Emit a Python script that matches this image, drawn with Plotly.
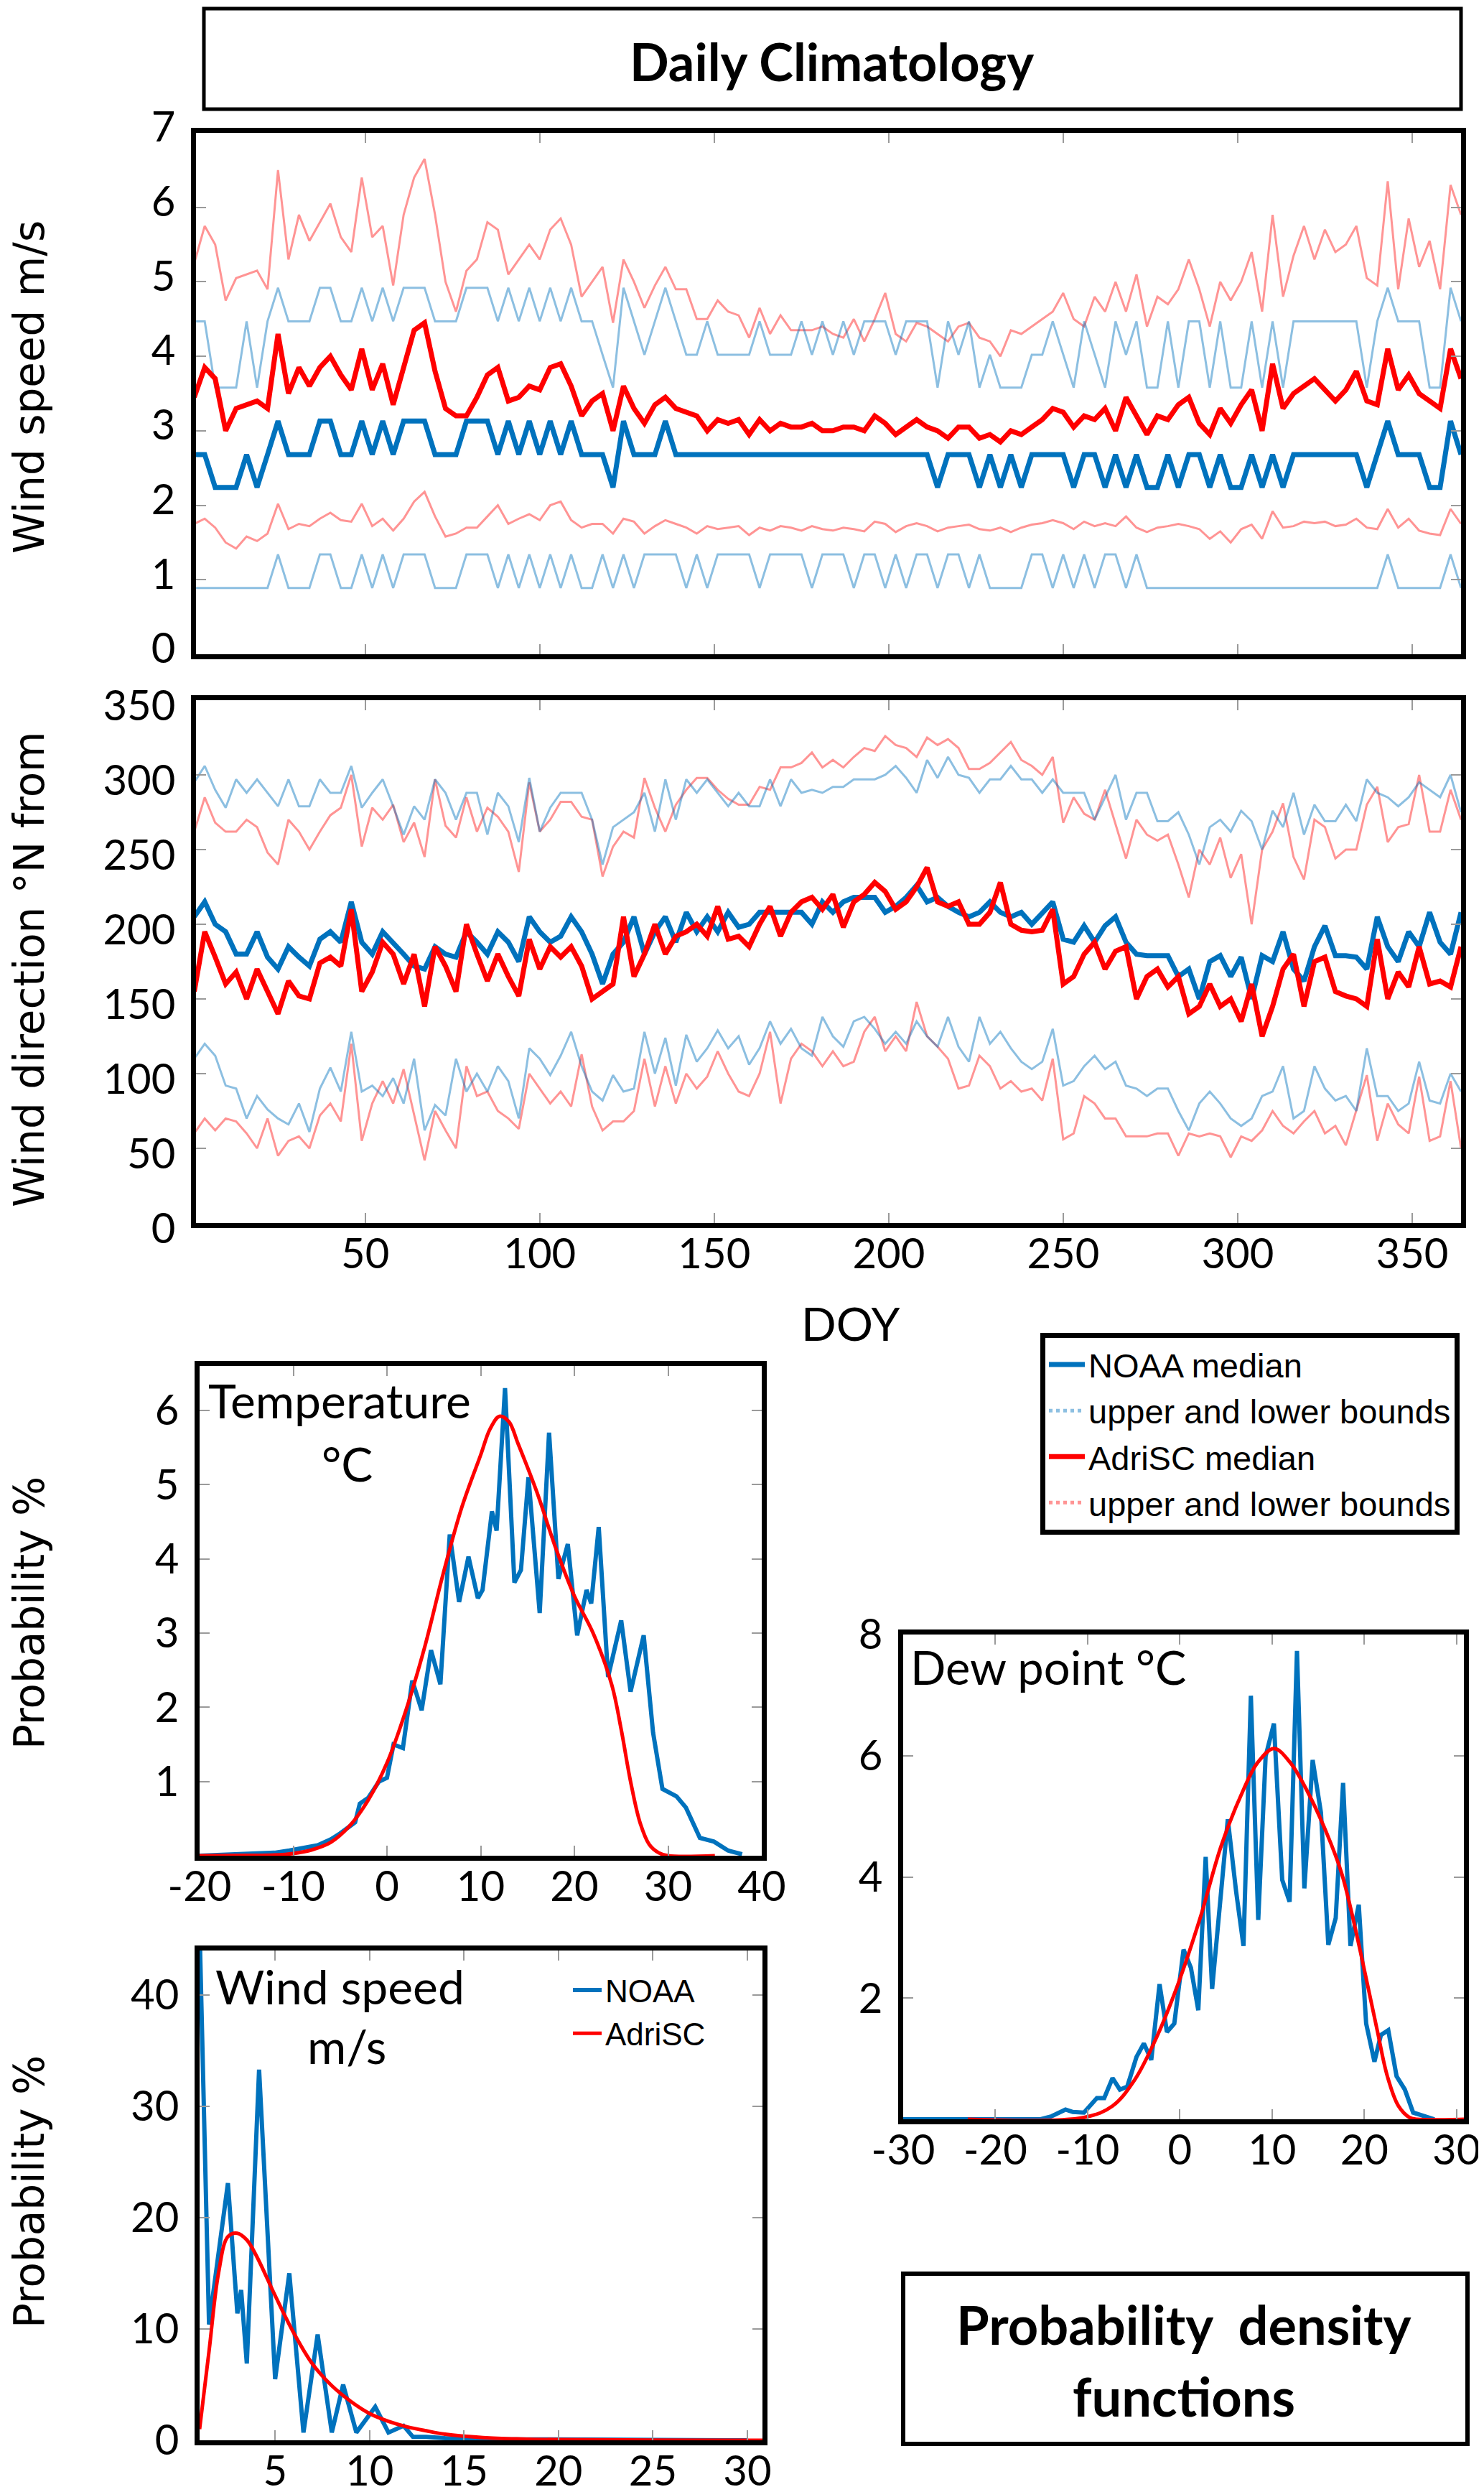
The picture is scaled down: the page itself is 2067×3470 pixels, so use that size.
import plotly.graph_objects as go

W, H = 2067, 3470

# day of year, sampled every third day
doy = list(range(1, 365, 3))

# ---- wind speed daily climatology (m/s) ----
noaa_ws_med = [
    2.68, 2.68, 2.24, 2.24, 2.24, 2.68, 2.24, 2.68, 3.13, 2.68,
    2.68, 2.68, 3.13, 3.13, 2.68, 2.68, 3.13, 2.68, 3.13, 2.68,
    3.13, 3.13, 3.13, 2.68, 2.68, 2.68, 3.13, 3.13, 3.13, 2.68,
    3.13, 2.68, 3.13, 2.68, 3.13, 2.68, 3.13, 2.68, 2.68, 2.68,
    2.24, 3.13, 2.68, 2.68, 2.68, 3.13, 2.68, 2.68, 2.68, 2.68,
    2.68, 2.68, 2.68, 2.68, 2.68, 2.68, 2.68, 2.68, 2.68, 2.68,
    2.68, 2.68, 2.68, 2.68, 2.68, 2.68, 2.68, 2.68, 2.68, 2.68,
    2.68, 2.24, 2.68, 2.68, 2.68, 2.24, 2.68, 2.24, 2.68, 2.24,
    2.68, 2.68, 2.68, 2.68, 2.24, 2.68, 2.68, 2.24, 2.68, 2.24,
    2.68, 2.24, 2.24, 2.68, 2.24, 2.68, 2.68, 2.24, 2.68, 2.24,
    2.24, 2.68, 2.24, 2.68, 2.24, 2.68, 2.68, 2.68, 2.68, 2.68,
    2.68, 2.68, 2.24, 2.68, 3.13, 2.68, 2.68, 2.68, 2.24, 2.24,
    3.13, 2.68]
noaa_ws_up = [
    4.47, 4.47, 3.58, 3.58, 3.58, 4.47, 3.58, 4.47, 4.92, 4.47,
    4.47, 4.47, 4.92, 4.92, 4.47, 4.47, 4.92, 4.47, 4.92, 4.47,
    4.92, 4.92, 4.92, 4.47, 4.47, 4.47, 4.92, 4.92, 4.92, 4.47,
    4.92, 4.47, 4.92, 4.47, 4.92, 4.47, 4.92, 4.47, 4.47, 4.02,
    3.58, 4.92, 4.47, 4.02, 4.47, 4.92, 4.47, 4.02, 4.02, 4.47,
    4.02, 4.02, 4.02, 4.02, 4.47, 4.02, 4.02, 4.02, 4.47, 4.02,
    4.47, 4.02, 4.47, 4.02, 4.47, 4.47, 4.47, 4.02, 4.47, 4.47,
    4.47, 3.58, 4.47, 4.02, 4.47, 3.58, 4.02, 3.58, 3.58, 3.58,
    4.02, 4.02, 4.47, 4.02, 3.58, 4.47, 4.02, 3.58, 4.47, 4.02,
    4.47, 3.58, 3.58, 4.47, 3.58, 4.47, 4.47, 3.58, 4.47, 3.58,
    3.58, 4.47, 3.58, 4.47, 3.58, 4.47, 4.47, 4.47, 4.47, 4.47,
    4.47, 4.47, 3.58, 4.47, 4.92, 4.47, 4.47, 4.47, 3.58, 3.58,
    4.92, 4.47]
noaa_ws_lo = [
    0.89, 0.89, 0.89, 0.89, 0.89, 0.89, 0.89, 0.89, 1.34, 0.89,
    0.89, 0.89, 1.34, 1.34, 0.89, 0.89, 1.34, 0.89, 1.34, 0.89,
    1.34, 1.34, 1.34, 0.89, 0.89, 0.89, 1.34, 1.34, 1.34, 0.89,
    1.34, 0.89, 1.34, 0.89, 1.34, 0.89, 1.34, 0.89, 0.89, 1.34,
    0.89, 1.34, 0.89, 1.34, 1.34, 1.34, 1.34, 0.89, 1.34, 0.89,
    1.34, 1.34, 1.34, 1.34, 0.89, 1.34, 1.34, 1.34, 1.34, 0.89,
    1.34, 1.34, 1.34, 0.89, 1.34, 1.34, 0.89, 1.34, 0.89, 1.34,
    1.34, 0.89, 1.34, 1.34, 0.89, 1.34, 0.89, 0.89, 0.89, 0.89,
    1.34, 1.34, 0.89, 1.34, 0.89, 1.34, 0.89, 1.34, 1.34, 0.89,
    1.34, 0.89, 0.89, 0.89, 0.89, 0.89, 0.89, 0.89, 0.89, 0.89,
    0.89, 0.89, 0.89, 0.89, 0.89, 0.89, 0.89, 0.89, 0.89, 0.89,
    0.89, 0.89, 0.89, 0.89, 1.34, 0.89, 0.89, 0.89, 0.89, 0.89,
    1.34, 0.89]
adri_ws_med = [
    3.45, 3.85, 3.7, 3.0, 3.3, 3.35, 3.4, 3.3, 4.3, 3.5,
    3.85, 3.6, 3.85, 4.0, 3.75, 3.55, 4.1, 3.55, 3.9, 3.35,
    3.85, 4.35, 4.45, 3.8, 3.3, 3.2, 3.2, 3.45, 3.75, 3.85,
    3.4, 3.45, 3.6, 3.55, 3.85, 3.9, 3.6, 3.2, 3.4, 3.5,
    3.0, 3.6, 3.3, 3.1, 3.35, 3.45, 3.3, 3.25, 3.2, 3.0,
    3.15, 3.1, 3.15, 2.95, 3.15, 3.0, 3.1, 3.05, 3.05, 3.1,
    3.0, 3.0, 3.05, 3.05, 3.0, 3.2, 3.1, 2.95, 3.05, 3.15,
    3.05, 3.0, 2.9, 3.05, 3.05, 2.9, 2.95, 2.85, 3.0, 2.95,
    3.05, 3.15, 3.3, 3.25, 3.05, 3.2, 3.15, 3.3, 3.0, 3.45,
    3.2, 2.95, 3.2, 3.15, 3.35, 3.45, 3.1, 2.95, 3.3, 3.1,
    3.35, 3.55, 3.0, 3.9, 3.3, 3.5, 3.6, 3.7, 3.55, 3.4,
    3.55, 3.8, 3.4, 3.35, 4.1, 3.55, 3.75, 3.5, 3.4, 3.3,
    4.1, 3.7]
adri_ws_up = [
    5.25, 5.75, 5.5, 4.75, 5.05, 5.1, 5.15, 4.9, 6.5, 5.3,
    5.9, 5.55, 5.8, 6.05, 5.6, 5.4, 6.4, 5.6, 5.75, 4.95,
    5.9, 6.4, 6.65, 5.9, 5.0, 4.6, 5.15, 5.3, 5.8, 5.7,
    5.1, 5.3, 5.5, 5.3, 5.7, 5.85, 5.5, 4.8, 5.0, 5.2,
    4.45, 5.3, 5.0, 4.65, 4.95, 5.2, 4.9, 4.9, 4.5, 4.5,
    4.75, 4.6, 4.55, 4.25, 4.65, 4.3, 4.55, 4.35, 4.35, 4.35,
    4.4, 4.3, 4.25, 4.5, 4.2, 4.5, 4.85, 4.3, 4.2, 4.45,
    4.4, 4.3, 4.2, 4.4, 4.45, 4.25, 4.2, 4.0, 4.35, 4.3,
    4.4, 4.5, 4.6, 4.85, 4.5, 4.4, 4.8, 4.6, 5.0, 4.6,
    5.1, 4.4, 4.8, 4.7, 4.9, 5.3, 4.9, 4.4, 5.0, 4.75,
    5.0, 5.4, 4.6, 5.9, 4.8, 5.35, 5.75, 5.3, 5.7, 5.4,
    5.5, 5.75, 5.05, 4.95, 6.35, 4.9, 5.85, 5.2, 5.55, 4.9,
    6.3, 5.9]
adri_ws_lo = [
    1.75, 1.82, 1.7, 1.5, 1.42, 1.58, 1.52, 1.62, 2.02, 1.68,
    1.75, 1.72, 1.82, 1.9, 1.8, 1.78, 2.02, 1.72, 1.82, 1.66,
    1.82, 2.05, 2.18, 1.85, 1.58, 1.62, 1.7, 1.7, 1.85, 2.0,
    1.75, 1.82, 1.88, 1.8, 2.0, 2.05, 1.8, 1.7, 1.75, 1.75,
    1.62, 1.82, 1.78, 1.62, 1.72, 1.8, 1.75, 1.7, 1.62, 1.72,
    1.68, 1.7, 1.72, 1.6, 1.7, 1.66, 1.72, 1.7, 1.66, 1.72,
    1.68, 1.66, 1.7, 1.68, 1.65, 1.78, 1.75, 1.64, 1.72, 1.76,
    1.72, 1.65, 1.7, 1.72, 1.74, 1.68, 1.66, 1.7, 1.64, 1.7,
    1.74, 1.76, 1.8, 1.76, 1.68, 1.78, 1.72, 1.76, 1.72, 1.85,
    1.7, 1.64, 1.7, 1.72, 1.75, 1.72, 1.68, 1.55, 1.65, 1.5,
    1.68, 1.74, 1.55, 1.92, 1.7, 1.72, 1.78, 1.76, 1.78, 1.72,
    1.74, 1.82, 1.7, 1.68, 1.95, 1.7, 1.82, 1.66, 1.62, 1.6,
    1.95, 1.75]

# ---- wind direction daily climatology (deg N from) ----
noaa_wd_med = [
    205, 215, 200, 195, 180, 180, 195, 178, 170, 185,
    178, 172, 190, 195, 188, 215, 188, 180, 195, 188,
    180, 172, 170, 185, 180, 178, 195, 188, 180, 195,
    188, 175, 205, 195, 188, 192, 205, 195, 180, 160,
    180, 188, 205, 180, 195, 205, 188, 208, 195, 205,
    195, 208, 198, 200, 208, 208, 208, 208, 208, 200,
    215, 208, 215, 218, 218, 218, 208, 212, 218, 226,
    215, 218, 212, 208, 205, 208, 215, 208, 205, 208,
    200, 208, 215, 190, 188, 199, 188, 199, 205, 188,
    180, 179, 179, 179, 165, 170, 150, 175, 179, 165,
    178, 150, 179, 175, 195, 170, 162, 185, 199, 179,
    179, 178, 170, 205, 185, 175, 195, 185, 208, 188,
    180, 208]
noaa_wd_up = [
    295, 306, 290, 278, 297, 288, 297, 288, 279, 297,
    279, 279, 297, 288, 288, 306, 278, 288, 297, 279,
    260, 279, 270, 297, 288, 270, 288, 288, 260, 288,
    279, 255, 298, 262, 278, 288, 288, 288, 270, 240,
    265, 270, 275, 288, 262, 297, 270, 297, 288, 297,
    288, 279, 288, 279, 279, 297, 279, 297, 288, 290,
    288, 292, 292, 297, 297, 297, 300, 306, 298, 288,
    310, 298, 312, 300, 298, 288, 297, 297, 306, 297,
    297, 288, 297, 288, 288, 288, 270, 285, 300, 270,
    288, 288, 269, 269, 275, 260, 240, 265, 270, 262,
    276, 269, 250, 276, 265, 288, 260, 280, 269, 269,
    280, 269, 297, 288, 285, 279, 285, 295, 290, 285,
    300, 275]
noaa_wd_lo = [
    110, 120, 112, 92, 90, 70, 85, 76, 70, 66,
    80, 61, 90, 104, 88, 128, 88, 92, 85, 97,
    80, 110, 62, 79, 72, 110, 88, 100, 88, 105,
    95, 70, 117, 110, 99, 112, 128, 105, 88, 82,
    99, 88, 90, 128, 100, 124, 92, 126, 108, 117,
    129, 117, 125, 106, 117, 135, 120, 130, 117, 112,
    138, 125, 118, 135, 138, 130, 120, 128, 120, 135,
    125, 118, 138, 118, 108, 138, 120, 128, 117, 108,
    103, 108, 130, 92, 95, 105, 112, 103, 108, 92,
    90, 85, 90, 90, 75, 62, 80, 88, 80, 70,
    65, 70, 85, 88, 105, 70, 75, 105, 90, 82,
    85, 75, 117, 85, 85, 75, 80, 108, 82, 80,
    100, 88]
adri_wd_med = [
    155, 195, 178, 160, 168, 150, 170, 155, 140, 162,
    152, 150, 174, 178, 172, 210, 155, 168, 188, 180,
    160, 180, 145, 185, 172, 155, 200, 180, 162, 180,
    165, 152, 190, 170, 185, 178, 185, 172, 150, 155,
    160, 205, 165, 180, 200, 180, 192, 195, 200, 192,
    212, 190, 192, 185, 200, 212, 192, 208, 215, 218,
    210, 220, 198, 215, 220, 228, 222, 210, 215, 225,
    238, 215, 212, 215, 200, 200, 208, 228, 200, 196,
    195, 196, 210, 160, 165, 180, 188, 170, 182, 185,
    150, 165, 170, 158, 165, 140, 145, 160, 145, 150,
    135, 160, 125, 145, 170, 180, 145, 175, 178, 155,
    152, 150, 145, 190, 150, 168, 158, 185, 160, 162,
    158, 185]
adri_wd_up = [
    262, 285, 268, 262, 262, 270, 265, 248, 240, 270,
    262, 250, 262, 273, 278, 300, 252, 278, 270, 280,
    255, 268, 245, 297, 266, 258, 285, 262, 278, 272,
    262, 235, 295, 262, 270, 282, 282, 272, 270, 232,
    252, 262, 258, 298, 278, 262, 280, 290, 298, 298,
    290, 284, 280, 280, 292, 290, 305, 305, 308, 315,
    305, 310, 305, 312, 318, 316, 326, 320, 318, 312,
    325, 320, 324, 318, 304, 304, 308, 315, 322, 310,
    306, 300, 312, 268, 285, 274, 270, 290, 267, 244,
    270, 260, 256, 260, 240, 218, 250, 240, 258, 231,
    247, 200, 250, 262, 281, 245, 230, 270, 265, 244,
    250, 250, 280, 292, 255, 265, 267, 300, 262, 262,
    290, 270]
adri_wd_lo = [
    60, 70, 62, 70, 68, 60, 50, 70, 45, 55,
    58, 50, 72, 80, 68, 120, 55, 80, 95, 80,
    103, 72, 42, 75, 62, 50, 105, 85, 88, 75,
    70, 63, 100, 90, 80, 88, 78, 113, 78, 62,
    68, 68, 75, 110, 78, 105, 80, 100, 90, 98,
    115, 100, 88, 85, 100, 128, 80, 110, 120, 115,
    105, 115, 105, 108, 128, 138, 115, 125, 115, 148,
    125, 118, 110, 90, 92, 112, 105, 90, 95, 88,
    90, 82, 110, 56, 60, 85, 80, 70, 70, 58,
    58, 58, 60, 60, 45, 60, 58, 60, 58, 44,
    58, 55, 62, 75, 65, 60, 68, 75, 60, 65,
    52, 75, 99, 55, 80, 66, 60, 98, 55, 58,
    95, 50]

# ---- probability density functions (%) ----
temp_noaa_x = [-20, -15, -12, -10.4, -7.4, -6, -5, -3.4, -2.9, -2,
               -0.85, 0, 0.7, 1.7, 2.7, 3.7, 4.7, 5.7, 6.7, 7.7,
               8.7, 9.7, 10.2, 11.2, 11.7, 12.6, 13.6, 14.3, 15.1, 16.3,
               17.3, 18.3, 19.3, 20.3, 21.3, 21.8, 22.6, 23.6, 25.0, 26.0,
               27.4, 28.4, 29.4, 30.9, 31.9, 33.4, 34.9, 36.4, 37.9]
temp_noaa = [0.0, 0.02, 0.04, 0.07, 0.14, 0.22, 0.3, 0.45, 0.7, 0.78,
             1.0, 1.05, 1.5, 1.45, 2.36, 1.96, 2.77, 2.31, 4.33, 3.42,
             4.03, 3.47, 3.58, 4.64, 4.38, 6.3, 3.68, 3.85, 5.1, 3.27,
             5.7, 3.73, 4.2, 2.97, 3.58, 3.4, 4.43, 2.41, 3.17, 2.21,
             2.97, 1.66, 0.9, 0.8, 0.65, 0.24, 0.19, 0.07, 0.02]
temp_adri_x = [-20, -15, -12, -10, -8, -6, -4, -2, 0, 2, 4, 6, 8, 10, 11,
               12, 13, 14, 16, 18, 20, 22, 24, 25, 26, 27, 28, 29, 30, 35]
temp_adri = [0.0, 0.005, 0.01, 0.03, 0.08, 0.18, 0.4, 0.75, 1.25, 1.95,
             2.8, 3.8, 4.7, 5.4, 5.75, 5.92, 5.85, 5.55, 4.9, 4.15,
             3.5, 3.0, 2.3, 1.7, 1.0, 0.45, 0.15, 0.04, 0.0, 0.0]

dew_noaa_x = [-30, -15.1, -13.9, -12.4, -11.6, -10.4, -9.0, -8.2, -7.3, -6.5,
              -5.7, -4.7, -3.9, -3.1, -2.2, -1.4, -0.6, 0.4, 1.2, 2.0,
              2.8, 3.5, 5.2, 6.1, 6.9, 7.7, 8.5, 9.3, 10.2, 11.1,
              11.9, 12.7, 13.5, 14.4, 15.3, 16.1, 16.9, 17.7, 18.5, 19.4,
              20.2, 21.1, 21.8, 22.6, 23.5, 24.4, 25.3, 26.7, 27.6]
dew_noaa = [0.0, 0.0, 0.05, 0.16, 0.12, 0.11, 0.35, 0.35, 0.68, 0.49,
            0.54, 1.03, 1.25, 0.98, 2.23, 1.44, 1.58, 2.8, 2.5, 1.8,
            4.33, 2.15, 4.95, 3.76, 2.86, 6.99, 3.29, 5.99, 6.53, 3.95,
            3.59, 7.73, 3.81, 5.93, 5.06, 2.88, 3.32, 5.55, 2.86, 3.54,
            1.58, 0.95, 1.39, 1.47, 0.71, 0.49, 0.11, 0.05, 0.0]
dew_adri_x = [-23, -10.4, -7.3, -4.9, -2.5, -0.2, 2.2, 4.5, 6.9, 8.4, 10.2, 12.0,
              13.9, 15.9, 17.5, 18.6, 19.8, 21.4, 22.5, 23.7, 24.9, 25.7, 30.8]
dew_adri = [0.0, 0.03, 0.22, 0.65, 1.36, 2.23, 3.32, 4.52, 5.44, 5.88, 6.12, 5.88,
            5.39, 4.73, 4.08, 3.43, 2.61, 1.47, 0.71, 0.22, 0.03, 0.0, 0.0]

ws_noaa_x = [1.0, 1.5, 2.5, 3.0, 3.2, 3.5, 4.15, 5.0, 5.75, 6.5, 7.25, 8.0,
             8.6, 9.3, 10.3, 11.0, 11.8, 12.3, 13.0, 14.0, 16.0, 20.0, 25.0, 30.0]
ws_noaa = [46.0, 10.4, 23.1, 11.4, 13.5, 6.9, 33.3, 5.5, 15.0, 0.7, 9.5, 0.7,
           5.0, 0.7, 3.0, 0.7, 1.3, 0.3, 0.3, 0.2, 0.1, 0.05, 0.02, 0.0]
ws_adri_x = [1.0, 1.5, 2.0, 2.5, 3.0, 3.5, 4.0, 5.0, 6.0, 7.0, 8.0, 9.0, 10.0,
             11.0, 12.0, 13.0, 14.0, 16.0, 18.0, 20.0, 25.0, 30.8]
ws_adri = [1.0, 8.0, 15.0, 18.3, 18.6, 18.0, 16.6, 13.0, 9.6, 6.8, 4.9, 3.5, 2.4,
           1.7, 1.2, 0.85, 0.55, 0.25, 0.12, 0.06, 0.02, 0.0]

# tick labels
doy_ticks = [50, 100, 150, 200, 250, 300, 350]
ws_ticks = [0, 1, 2, 3, 4, 5, 6, 7]
wd_ticks = [0, 50, 100, 150, 200, 250, 300, 350]
temp_xticks = [-20, -10, 0, 10, 20, 30, 40]
temp_yticks = [1, 2, 3, 4, 5, 6]
dew_xticks = [-30, -20, -10, 0, 10, 20, 30]
dew_yticks = [2, 4, 6, 8]
wsp_xticks = [5, 10, 15, 20, 25, 30]
wsp_yticks = [0, 10, 20, 30, 40]

BLUE = "#0072BD"
RED = "#FF0000"
LBLUE = "rgba(0,114,189,0.45)"
LRED = "rgba(255,0,0,0.42)"
TICKFONT = "Lato"


def xdom(a, b):
    return [a / W, b / W]


def ydom(top, bottom):
    return [1 - bottom / H, 1 - top / H]


fig = go.Figure()


def add_line(x, y, color, width, ax, name=None, legend=None, rank=None, shape="linear"):
    fig.add_trace(go.Scatter(
        x=x, y=y, mode="lines", name=name,
        line=dict(color=color, width=width, shape=shape),
        xaxis="x" + ax, yaxis="y" + ax,
        showlegend=legend is not None,
        legend=legend or "legend",
        legendrank=rank or 1000,
        hoverinfo="skip"))


# daily climatology panels
for ax, up_a, lo_a, up_n, lo_n, med_n, med_a in [
        ("", adri_ws_up, adri_ws_lo, noaa_ws_up, noaa_ws_lo, noaa_ws_med, adri_ws_med),
        ("2", adri_wd_up, adri_wd_lo, noaa_wd_up, noaa_wd_lo, noaa_wd_med, adri_wd_med)]:
    add_line(doy, up_a, LRED, 3, ax)
    add_line(doy, lo_a, LRED, 3, ax)
    add_line(doy, up_n, LBLUE, 3, ax)
    add_line(doy, lo_n, LBLUE, 3, ax)
    first = ax == ""
    add_line(doy, med_n, BLUE, 7, ax, "NOAA median", "legend" if first else None, 1)
    add_line(doy, med_a, RED, 7, ax, "AdriSC median", "legend" if first else None, 3)

# legend-only entries for the bounds (dotted, as in the original key)
for nm, col, rk in [("upper and lower bounds", LBLUE, 2), ("upper and lower bounds", LRED, 4)]:
    fig.add_trace(go.Scatter(x=[None], y=[None], mode="lines", name=nm,
                             line=dict(color=col, width=5, dash="dot"),
                             legendrank=rk, showlegend=True))

# pdf panels
add_line(temp_noaa_x, temp_noaa, BLUE, 6, "3")
add_line(temp_adri_x, temp_adri, RED, 5, "3", shape="spline")
add_line(dew_noaa_x, dew_noaa, BLUE, 6, "4")
add_line(dew_adri_x, dew_adri, RED, 5, "4", shape="spline")
add_line(ws_noaa_x, ws_noaa, BLUE, 6, "5", "NOAA", "legend2", 1)
add_line(ws_adri_x, ws_adri, RED, 5, "5", "AdriSC", "legend2", 2, shape="spline")

axis = dict(showline=True, linewidth=7, linecolor="black", mirror="ticks",
            ticks="inside", ticklen=14, tickwidth=2, tickcolor="#9a9a9a",
            showgrid=False, zeroline=False, automargin=False,
            tickfont=dict(family=TICKFONT, size=58, color="black"))
xaxis_style = dict(axis, ticklabelstandoff=-14)
yaxis_style = dict(axis, ticklabelstandoff=10)


def labels(v):
    return [str(t) for t in v]


fig.update_layout(
    width=W, height=H, autosize=False,
    margin=dict(l=0, r=0, t=0, b=0, pad=0, autoexpand=False),
    paper_bgcolor="white", plot_bgcolor="white",
    xaxis=dict(xaxis_style, domain=xdom(265, 2027), range=[1.5, 364], tickvals=doy_ticks,
               showticklabels=False, anchor="y"),
    yaxis=dict(yaxis_style, domain=ydom(177, 903), range=[0, 7], tickvals=ws_ticks,
               ticktext=labels(ws_ticks), ticklabelshift=-8, anchor="x"),
    xaxis2=dict(xaxis_style, domain=xdom(265, 2027), range=[1.5, 364], tickvals=doy_ticks,
                ticktext=labels(doy_ticks), anchor="y2"),
    yaxis2=dict(yaxis_style, domain=ydom(967, 1695), range=[0, 350], tickvals=wd_ticks,
                ticktext=labels(wd_ticks), ticklabelshift=8, anchor="x2"),
    xaxis3=dict(xaxis_style, domain=xdom(270, 1053), range=[-20, 40], tickvals=temp_xticks,
                ticktext=labels(temp_xticks), anchor="y3"),
    yaxis3=dict(yaxis_style, domain=ydom(1894, 2576), range=[0, 6.6], tickvals=temp_yticks,
                ticktext=labels(temp_yticks), anchor="x3"),
    xaxis4=dict(xaxis_style, domain=xdom(1250, 2031), range=[-30, 30.8], tickvals=dew_xticks,
                ticktext=labels(dew_xticks), anchor="y4"),
    yaxis4=dict(yaxis_style, domain=ydom(2268, 2943), range=[0, 8], tickvals=dew_yticks,
                ticktext=labels(dew_yticks), anchor="x4"),
    xaxis5=dict(xaxis_style, domain=xdom(270, 1054), range=[1, 30.8], tickvals=wsp_xticks,
                ticktext=labels(wsp_xticks), anchor="y5"),
    yaxis5=dict(yaxis_style, domain=ydom(2708, 3390), range=[0, 44], tickvals=wsp_yticks,
                ticktext=labels(wsp_yticks), anchor="x5"),
    legend=dict(x=1441 / W, y=1 - 1848 / H, xanchor="left", yanchor="top",
                bgcolor="white", bordercolor="black", borderwidth=7,
                font=dict(family="Liberation Sans", size=47, color="black"),
                itemwidth=50, traceorder="normal"),
    legend2=dict(x=785 / W, y=1 - 2728 / H, xanchor="left", yanchor="top",
                 bgcolor="rgba(0,0,0,0)", borderwidth=0,
                 font=dict(family="Liberation Sans", size=44, color="black"),
                 itemwidth=40, traceorder="normal"),
)

# title boxes
fig.add_shape(type="rect", xref="paper", yref="paper",
              x0=276 / W, x1=2027 / W, y0=1 - 144 / H, y1=1 - 4 / H,
              line=dict(color="black", width=5))
fig.add_shape(type="rect", xref="paper", yref="paper",
              x0=1250 / W, x1=2036 / W, y0=1 - 3395 / H, y1=1 - 3158 / H,
              line=dict(color="black", width=6))


def note(text, x, y, size, family=TICKFONT, xanchor="center", angle=0):
    fig.add_annotation(text=text, x=x / W, y=1 - y / H, xref="paper", yref="paper",
                       xanchor=xanchor, yanchor="middle", showarrow=False,
                       textangle=angle, font=dict(family=family, size=size, color="black"))


note("<b>Daily Climatology</b>", 1151, 77, 72)
note("<b>Probability  density</b>", 1641, 3228, 74)
note("<b>functions</b>", 1641, 3328, 74)
note("DOY", 1176, 1835, 64)
note("Wind speed m/s", 33, 531, 58, "DejaVu Sans", angle=-90)
note("Wind direction °N from", 33, 1342, 58, "DejaVu Sans", angle=-90)
note("Probability %", 33, 2238, 58, "DejaVu Sans", angle=-90)
note("Probability %", 33, 3044, 58, "DejaVu Sans", angle=-90)
note("Temperature", 280, 1941, 66, xanchor="left")
note("°C", 475, 2029, 66)
note("Wind speed", 290, 2757, 66, xanchor="left")
note("m/s", 475, 2840, 66)
note("Dew point °C", 1258, 2313, 65, xanchor="left")

fig.write_html("out.html", config={"displayModeBar": False})
